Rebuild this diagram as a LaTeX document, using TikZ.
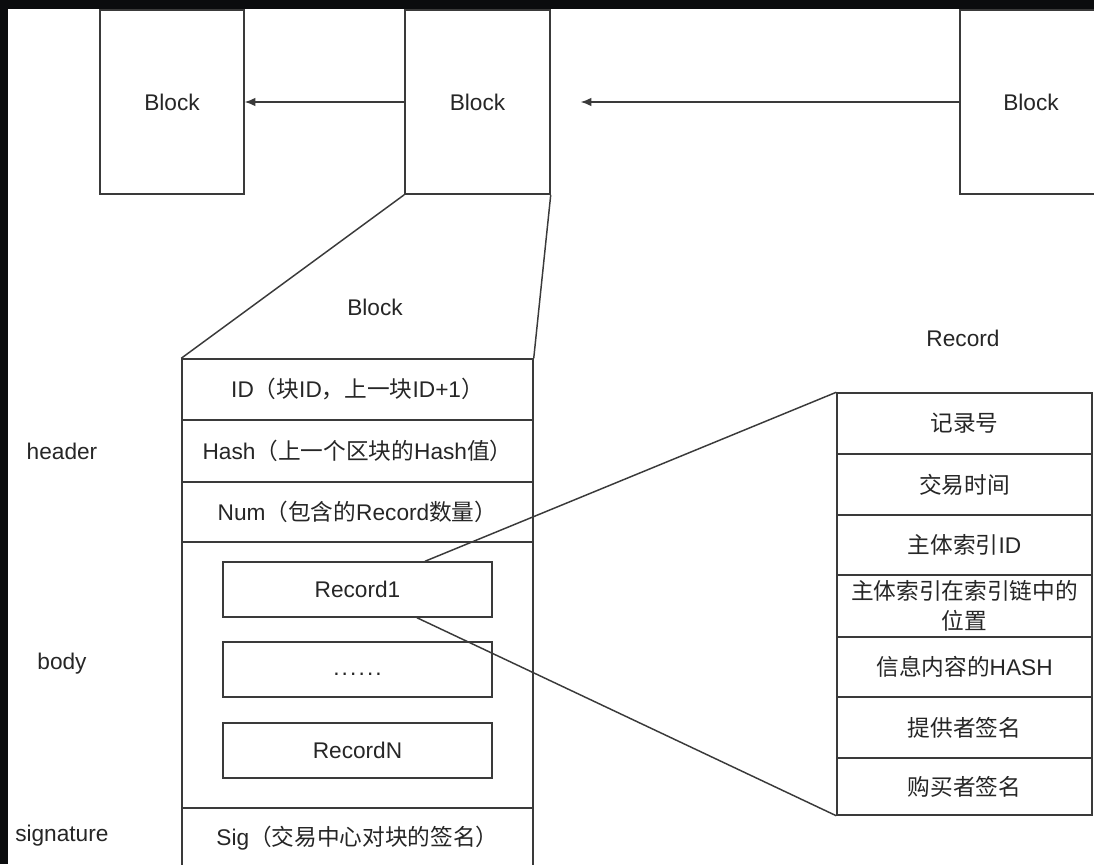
\documentclass[tikz,border=0pt]{standalone}
\usepackage{fontspec}
\setmainfont{Liberation Sans}
\newfontfamily\cjk{Noto Sans CJK SC}
\usetikzlibrary{arrows.meta}
\definecolor{framec}{HTML}{0B0C0E}
\definecolor{lnc}{HTML}{3A3A3A}
\definecolor{txc}{HTML}{262626}
\newcommand{\Cj}[1]{{\cjk #1}}
\newcommand{\dotk}{.\kern1.6pt}
\begin{document}
\begin{tikzpicture}[x=0.75pt,y=-0.75pt,
  every node/.style={font=\fontsize{17}{22}\selectfont, text=txc},
  sz/.style 2 args={minimum width=#1*0.75pt, minimum height=#2*0.75pt},
  box/.style={draw=lnc, line width=1.1pt, inner sep=0pt},
  lbl/.style={inner sep=0pt},
  arr/.style={draw=lnc, line width=1.1pt, -{Latex[length=8pt,width=6.5pt]}},
  link/.style={draw=lnc, line width=1.1pt}]
\useasboundingbox (0,0) rectangle (1094,864);
\clip (0,0) rectangle (1094,864);
\fill[white] (0,0) rectangle (1094,864);
\fill[framec] (0,0) rectangle (1094,9);
\fill[framec] (0,0) rectangle (8,864);

% top blocks
\node[box, sz={144}{184}] (b1) at (172,102) {Block};
\node[box, sz={145}{184}] (b2) at (477.5,102) {Block};
\node[box, sz={142}{184}] (b3) at (1031,102) {Block};
\draw[arr] (b2) -- (b1);
\draw[arr, shorten >=22.5pt] (b3) -- (b2);

% block table
\node[lbl] (blocklbl) at (375,307) {Block};
\node[box, sz={351}{61}] (id) at (357.5,389.5) {ID\Cj{（块}ID\Cj{，上一块}ID+1\Cj{）}};
\node[box, sz={351}{62}] (hash) at (357.5,451) {Hash\Cj{（上一个区块的}Hash\Cj{值）}};
\node[box, sz={351}{60}] (num) at (357.5,512) {Num\Cj{（包含的}Record\Cj{数量）}};
\node[box, sz={351}{266}] (body) at (357.5,675) {};
\node[box, sz={351}{60}] (sig) at (357.5,838) {Sig\Cj{（交易中心对块的签名）}};
\node[box, sz={269}{55}] (rec1) at (357.5,589.5) {Record1};
\node[box, sz={269}{55}] (recd) at (357.5,669.5) {\strut\dotk\dotk\dotk\dotk\dotk.};
\node[box, sz={269}{55}] (recn) at (357.5,750.5) {RecordN};

\draw[link] (b2.south west) -- (id.north west);
\draw[link] (b2.south east) -- (id.north east);

% side labels
\node[lbl] (hdr) at (62,451) {header};
\node[lbl] (bdy) at (62,664) {body};
\node[lbl, anchor=west] (sgn) at (15,836) {signature};

% record table
\node[lbl] (reclbl) at (963,338) {Record};
\node[box, sz={255}{61}] (r1) at (964.5,423.5) {\Cj{记录号}};
\node[box, sz={255}{61}] (r2) at (964.5,484.5) {\Cj{交易时间}};
\node[box, sz={255}{60}] (r3) at (964.5,545) {\Cj{主体索引}ID};
\node[box, sz={255}{62}, align=center, font=\fontsize{17}{22.5}\selectfont] (r4) at (964.5,606) {\Cj{主体索引在索引链中的}\\\Cj{位置}};
\node[box, sz={255}{60}] (r5) at (964.5,667) {\Cj{信息内容的}HASH};
\node[box, sz={255}{61}] (r6) at (964.5,727.5) {\Cj{提供者签名}};
\node[box, sz={255}{57}] (r7) at (964.5,786.5) {\Cj{购买者签名}};

\draw[link] ([xshift=50.6pt]rec1.north) -- (r1.north west);
\draw[link] ([xshift=44.6pt]rec1.south) -- (r7.south west);
\end{tikzpicture}
\end{document}
